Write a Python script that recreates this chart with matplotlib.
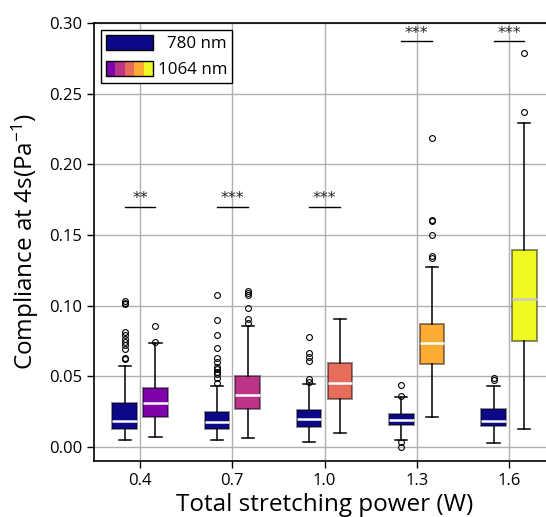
import numpy as np
import matplotlib
matplotlib.use("Agg")
import matplotlib.pyplot as plt
from matplotlib.legend_handler import HandlerBase
from matplotlib.patches import Rectangle

plt.rcParams['font.family'] = ['Open Sans', 'DejaVu Sans']
plt.rcParams['mathtext.default'] = 'regular'

powers = [0.4, 0.7, 1.0, 1.3, 1.6]
tick_labels = ['0.4', '0.7', '1.0', '1.3', '1.6']

# 780 nm box stats
lo_780 = [0.0052, 0.0052, 0.0038, 0.0052, 0.0030]
q1_780 = [0.0123, 0.0123, 0.0138, 0.0152, 0.0147]
med_780 = [0.0182, 0.0177, 0.0194, 0.0187, 0.0182]
q3_780 = [0.0310, 0.0246, 0.0262, 0.0230, 0.0265]
hi_780 = [0.0570, 0.0428, 0.0447, 0.0350, 0.0430]
fl_780 = [
    [0.1035, 0.102, 0.101, 0.0816, 0.079, 0.076, 0.074, 0.072, 0.069, 0.063, 0.062],
    [0.1076, 0.0896, 0.079, 0.0702, 0.063, 0.0603, 0.0567, 0.0549, 0.0532, 0.0513, 0.049, 0.0454],
    [0.078, 0.0667, 0.0634, 0.061, 0.0478, 0.046],
    [0.0435, 0.036, 0.0033, 0.0],
    [0.049, 0.0473],
]

# 1064 nm box stats
lo_1064 = [0.0069, 0.0060, 0.0095, 0.0213, 0.0123]
q1_1064 = [0.0213, 0.0265, 0.0338, 0.0584, 0.0750]
med_1064 = [0.0312, 0.0369, 0.0454, 0.0738, 0.1045]
q3_1064 = [0.0420, 0.0501, 0.0591, 0.0870, 0.1395]
hi_1064 = [0.0733, 0.0856, 0.0904, 0.1272, 0.2293]
fl_1064 = [
    [0.0854, 0.0745],
    [0.110, 0.1088, 0.1076, 0.098, 0.0904, 0.0875],
    [],
    [0.2187, 0.1608, 0.1598, 0.150, 0.1348, 0.1336],
    [0.279, 0.2369],
]

sig_labels = ['**', '***', '***', '***', '***']
sig_heights = [0.17, 0.17, 0.17, 0.287, 0.287]

cmap = plt.get_cmap('plasma')
c780 = cmap(0.0)
c1064 = [cmap(p / 1.6) for p in powers]
med_colors = ['white', 'white', 'white', 'white', '#c8c8c8']


def make_stats(lo, q1, med, q3, hi, fl):
    return [dict(whislo=a, q1=b, med=c, q3=d, whishi=e, fliers=f)
            for a, b, c, d, e, f in zip(lo, q1, med, q3, hi, fl)]


fig = plt.figure(figsize=(5.46, 5.17), dpi=100)
ax = fig.add_axes([94 / 546, 56 / 517, 461 / 546, 438 / 517])
ax.set_axisbelow(True)
ax.grid(True, color='#b0b0b0', lw=1)

flierprops = dict(marker='o', markerfacecolor='none', markeredgecolor='black',
                  markersize=4.2, markeredgewidth=0.8)
common = dict(widths=0.08, patch_artist=True, flierprops=flierprops,
              whiskerprops=dict(color='black', lw=1.1),
              capprops=dict(color='black', lw=1.1),
              boxprops=dict(edgecolor=(0, 0, 0, 0.45), lw=1.4),
              medianprops=dict(lw=1.8))

pos = np.array(powers)
b1 = ax.bxp(make_stats(lo_780, q1_780, med_780, q3_780, hi_780, fl_780),
            positions=pos - 0.05, **common)
b2 = ax.bxp(make_stats(lo_1064, q1_1064, med_1064, q3_1064, hi_1064, fl_1064),
            positions=pos + 0.05, **common)
for patch in b1['boxes']:
    patch.set_facecolor(c780)
for m in b1['medians']:
    m.set_color('white')
for patch, c in zip(b2['boxes'], c1064):
    patch.set_facecolor(c)
for m, c in zip(b2['medians'], med_colors):
    m.set_color(c)

for p, lab, h in zip(powers, sig_labels, sig_heights):
    ax.plot([p - 0.05, p + 0.05], [h, h], color='black', lw=1)
    ax.text(p, h + 0.0003, lab, ha='center', va='bottom', fontsize=11.5,
            color='#222222', family='DejaVu Sans')

ax.set_xlim(0.25, 1.75)
ax.set_ylim(-0.01, 0.30)
ax.set_xticks(powers)
ax.set_xticklabels(tick_labels)
ax.set_yticks(np.arange(0, 0.301, 0.05))
ax.yaxis.set_major_formatter(plt.FormatStrFormatter('%.2f'))
ax.tick_params(labelsize=12, length=5, width=1)
for s in ax.spines.values():
    s.set_linewidth(1.2)
ax.set_xlabel('Total stretching power (W)', fontsize=17.5, labelpad=3)
ax.set_ylabel('Compliance at 4s(Pa$^{-1}$)', fontsize=17.5, labelpad=6)


class Strip:
    def __init__(self, colors):
        self.colors = colors


class HandlerStrip(HandlerBase):
    def create_artists(self, legend, orig_handle, xdescent, ydescent,
                       width, height, fontsize, trans):
        n = len(orig_handle.colors)
        arts = []
        for i, c in enumerate(orig_handle.colors):
            arts.append(Rectangle((-xdescent + i * width / n, -ydescent),
                                  width / n, height, facecolor=c,
                                  edgecolor='none', transform=trans))
        arts.append(Rectangle((-xdescent, -ydescent), width, height,
                              facecolor='none', edgecolor='black', lw=1,
                              transform=trans))
        return arts


leg = ax.legend([Strip([c780]), Strip(c1064)], ['780 nm', '1064 nm'],
                handler_map={Strip: HandlerStrip()}, loc='upper left',
                fontsize=12.2, handlelength=2.8, handleheight=1.0,
                fancybox=False, edgecolor='black', framealpha=1,
                borderpad=0.3, borderaxespad=0.4, labelspacing=0.5,
                handletextpad=0.25)
leg.get_frame().set_linewidth(1)

fig.canvas.draw()
r = fig.canvas.get_renderer()
widths = [t.get_window_extent(r).width for t in leg.get_texts()]
wmax = max(widths)
for t, w in zip(leg.get_texts(), widths):
    t.set_position((wmax - w, 0))

fig.savefig('out.png', dpi=100)
